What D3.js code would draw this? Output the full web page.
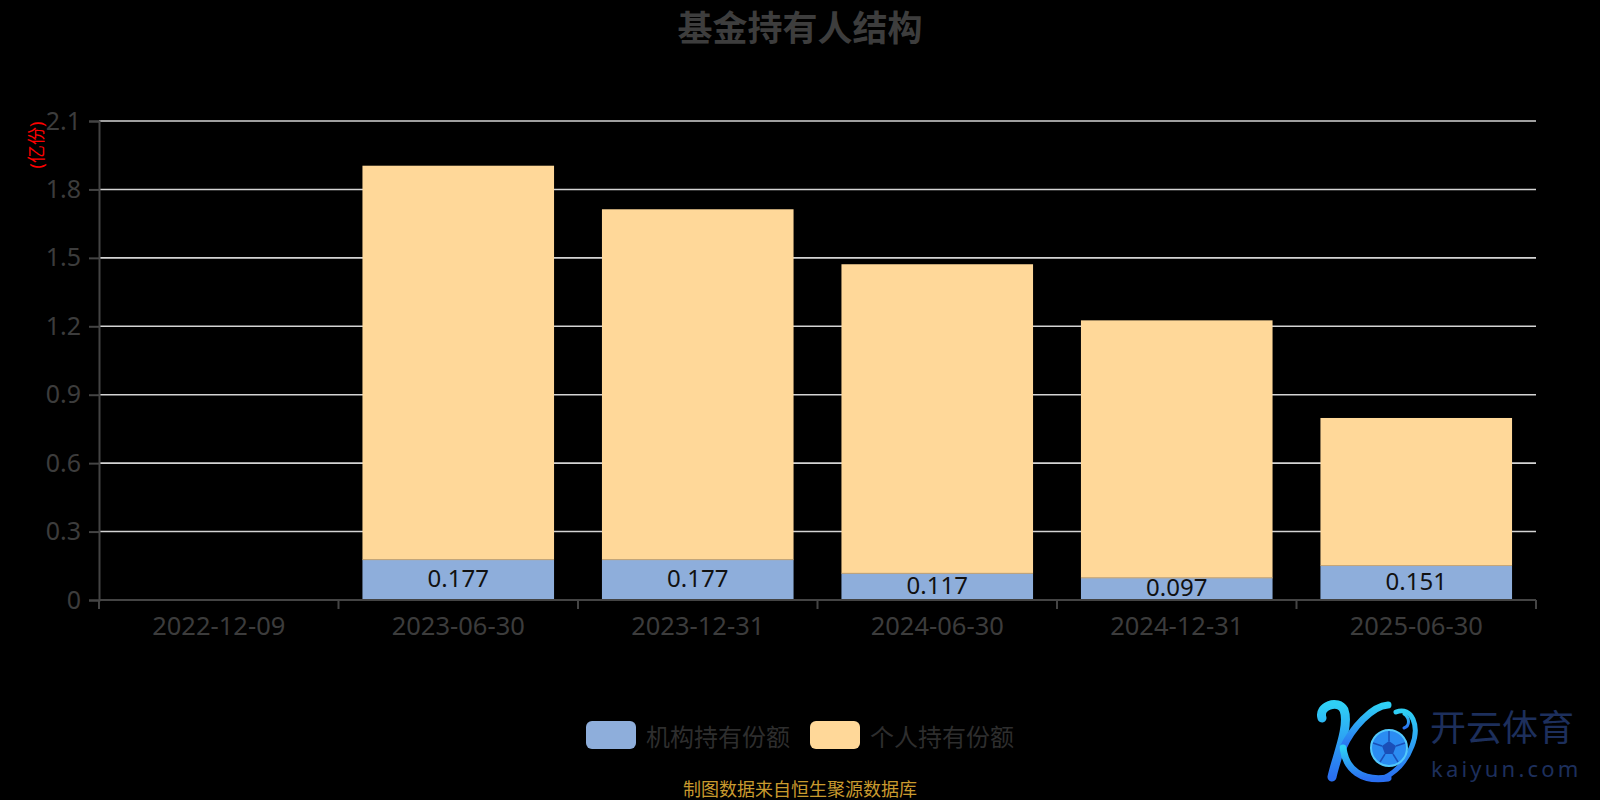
<!DOCTYPE html>
<html>
<head>
<meta charset="utf-8">
<script src="https://cdn.jsdelivr.net/npm/d3@7/dist/d3.min.js"></script>
<style>
  html, body { margin: 0; padding: 0; background: #000; }
  svg { display: block; }
  text { font-family: "Noto Sans", "Noto Sans CJK SC", sans-serif; }
</style>
</head>
<body>
<svg id="chart" width="1600" height="800"></svg>
<script>
// ---- data ----
const categories = ["2022-12-09", "2023-06-30", "2023-12-31", "2024-06-30", "2024-12-31", "2025-06-30"];
const institutional = [null, 0.177, 0.177, 0.117, 0.097, 0.151];
const individual = [null, 1.727, 1.536, 1.355, 1.129, 0.647];
const seriesNames = ["机构持有份额", "个人持有份额"];
const seriesColors = ["#8eaedb", "#ffd899"];
const yTicks = [0, 0.3, 0.6, 0.9, 1.2, 1.5, 1.8, 2.1];
const yTickLabels = ["0", "0.3", "0.6", "0.9", "1.2", "1.5", "1.8", "2.1"];
const titleText = "基金持有人结构";
const yAxisName = "(亿份)";
const footerText = "制图数据来自恒生聚源数据库";

(function () {
const svg = d3.select("#chart");
const pLeft = 99, pRight = 1536, pTop = 121, pBottom = 600;

const x = d3.scaleBand().domain(categories).range([pLeft, pRight]).paddingInner(0.2).paddingOuter(0.1);
const y = d3.scaleLinear().domain([0, 2.1]).range([pBottom, pTop]);

// title
svg.append("text").attr("x", 800).attr("y", 25).attr("text-anchor", "middle")
  .attr("dominant-baseline", "central").attr("font-size", 35).attr("font-weight", "bold")
  .attr("fill", "#3d3d3d").style("font-family", "'Noto Sans CJK SC', sans-serif").text(titleText);

// grid lines
svg.append("g").selectAll("line").data(yTicks.filter(d => d > 0)).join("line")
  .attr("x1", pLeft).attr("x2", pRight).attr("y1", d => y(d)).attr("y2", d => y(d))
  .attr("stroke", "#d4d4d4").attr("stroke-width", 1.6);

// bars
const stacked = categories.map((c, i) => ({ c, a: institutional[i], b: individual[i] })).filter(d => d.a != null);
const gBars = svg.append("g");
gBars.selectAll("rect.ind").data(stacked).join("rect").attr("class", "ind")
  .attr("x", d => x(d.c)).attr("width", x.bandwidth())
  .attr("y", d => y(d.a + d.b)).attr("height", d => y(d.a) - y(d.a + d.b))
  .attr("fill", seriesColors[1]);
gBars.selectAll("rect.inst").data(stacked).join("rect").attr("class", "inst")
  .attr("x", d => x(d.c)).attr("width", x.bandwidth())
  .attr("y", d => y(d.a)).attr("height", d => y(0) - y(d.a))
  .attr("fill", seriesColors[0]);
gBars.selectAll("line.sep").data(stacked).join("line").attr("class", "sep")
  .attr("x1", d => x(d.c)).attr("x2", d => x(d.c) + x.bandwidth())
  .attr("y1", d => y(d.a)).attr("y2", d => y(d.a))
  .attr("stroke", "#c9a878").attr("stroke-width", 1);
gBars.selectAll("text").data(stacked).join("text")
  .attr("x", d => x(d.c) + x.bandwidth() / 2)
  .attr("y", d => (y(0) + y(d.a)) / 2 - 2)
  .attr("text-anchor", "middle").attr("dominant-baseline", "central")
  .attr("font-size", 24).attr("fill", "#111")
  .text(d => d.a);

// x axis
const gx = svg.append("g");
gx.append("line").attr("x1", pLeft).attr("x2", pRight).attr("y1", pBottom).attr("y2", pBottom)
  .attr("stroke", "#444").attr("stroke-width", 2);
const boundaries = categories.map(c => x(c) - x.step() * x.paddingInner() / 2).concat([pRight]);
gx.selectAll("line.tick").data(boundaries).join("line").attr("class", "tick")
  .attr("x1", d => d).attr("x2", d => d).attr("y1", pBottom).attr("y2", pBottom + 9)
  .attr("stroke", "#444").attr("stroke-width", 2);
gx.selectAll("text").data(categories).join("text")
  .attr("x", d => x(d) + x.bandwidth() / 2).attr("y", 625)
  .attr("text-anchor", "middle").attr("dominant-baseline", "central")
  .attr("font-size", 25.5).attr("fill", "#3c3c3c").text(d => d);

// y axis
const gy = svg.append("g").attr("transform", `translate(${pLeft},0)`)
  .call(d3.axisLeft(y).tickValues(yTicks).tickSize(10).tickPadding(8).tickFormat((d, i) => yTickLabels[i]));
gy.select(".domain").attr("stroke", "#444").attr("stroke-width", 2);
gy.selectAll(".tick line").attr("stroke", "#444").attr("stroke-width", 2);
gy.selectAll(".tick text").attr("font-size", 25).attr("fill", "#3c3c3c")
  .style("font-family", "'Noto Sans', sans-serif");

// y axis name
svg.append("text").attr("transform", "translate(36,145) rotate(-90)")
  .attr("text-anchor", "middle").attr("dominant-baseline", "central")
  .attr("font-size", 18).attr("fill", "#ff0000").text(yAxisName);

// legend
const legendX = [586, 810];
const gl = svg.append("g");
seriesNames.forEach((n, i) => {
  gl.append("rect").attr("x", legendX[i]).attr("y", 721).attr("width", 50).attr("height", 28)
    .attr("rx", 6).attr("fill", seriesColors[i]);
  gl.append("text").attr("x", legendX[i] + 60).attr("y", 735).attr("dominant-baseline", "central")
    .attr("font-size", 24).attr("fill", "#2e2e2e")
    .style("font-family", "'Noto Sans CJK SC', sans-serif").text(n);
});

// footer
svg.append("text").attr("x", 800).attr("y", 788).attr("text-anchor", "middle")
  .attr("dominant-baseline", "central").attr("font-size", 18).attr("fill", "#c99a2e")
  .style("font-family", "'Noto Sans CJK SC', sans-serif").text(footerText);

// watermark logo
const defs = svg.append("defs");
const grad = defs.append("linearGradient").attr("id", "kg").attr("x1", 0).attr("y1", 0).attr("x2", 0).attr("y2", 1);
grad.append("stop").attr("offset", "0%").attr("stop-color", "#2fd0f5");
grad.append("stop").attr("offset", "100%").attr("stop-color", "#2a6ff0");
const lg = svg.append("g").attr("fill", "none").attr("stroke", "url(#kg)").attr("stroke-linecap", "round");
lg.append("path").attr("d", "M1322,718 C1318,706 1338,699 1344,710 C1350,726 1336,758 1332,777").attr("stroke-width", 9);
lg.append("path").attr("d", "M1388,705 C1372,706 1352,728 1343,748").attr("stroke-width", 7);
lg.append("path").attr("d", "M1343,748 C1346,770 1362,782 1388,778").attr("stroke-width", 7);
lg.append("path").attr("d", "M1396,712 C1412,706 1420,726 1412,746 C1406,762 1396,772 1384,778").attr("stroke-width", 5);
lg.append("path").attr("d", "M1404,714 C1410,718 1410,726 1404,728").attr("stroke-width", 3);
svg.append("circle").attr("cx", 1389).attr("cy", 748).attr("r", 18)
  .attr("fill", "#2b8cf2").attr("stroke", "#52c8fb").attr("stroke-width", 2);
svg.append("path").attr("d", "M1389,741 L1396,746 L1393,754 L1385,754 L1382,746 Z").attr("fill", "#1a4fb8");
svg.append("g").attr("stroke", "#1a4fb8").attr("stroke-width", 1.5)
  .selectAll("line").data([[1389,741,1389,731],[1396,746,1405,743],[1393,754,1398,762],[1385,754,1380,762],[1382,746,1373,743]])
  .join("line").attr("x1", d => d[0]).attr("y1", d => d[1]).attr("x2", d => d[2]).attr("y2", d => d[3]);
svg.append("text").attr("x", 1430).attr("y", 725).attr("dominant-baseline", "central")
  .attr("font-size", 36).attr("fill", "#1d2f5c")
  .style("font-family", "'Noto Sans CJK SC', sans-serif").text("开云体育");
svg.append("text").attr("x", 1431).attr("y", 768).attr("dominant-baseline", "central")
  .attr("font-size", 22).attr("letter-spacing", 3.2).attr("fill", "#1d2f5c")
  .style("font-family", "'Noto Sans', sans-serif").text("kaiyun.com");
})();
</script>
</body>
</html>
